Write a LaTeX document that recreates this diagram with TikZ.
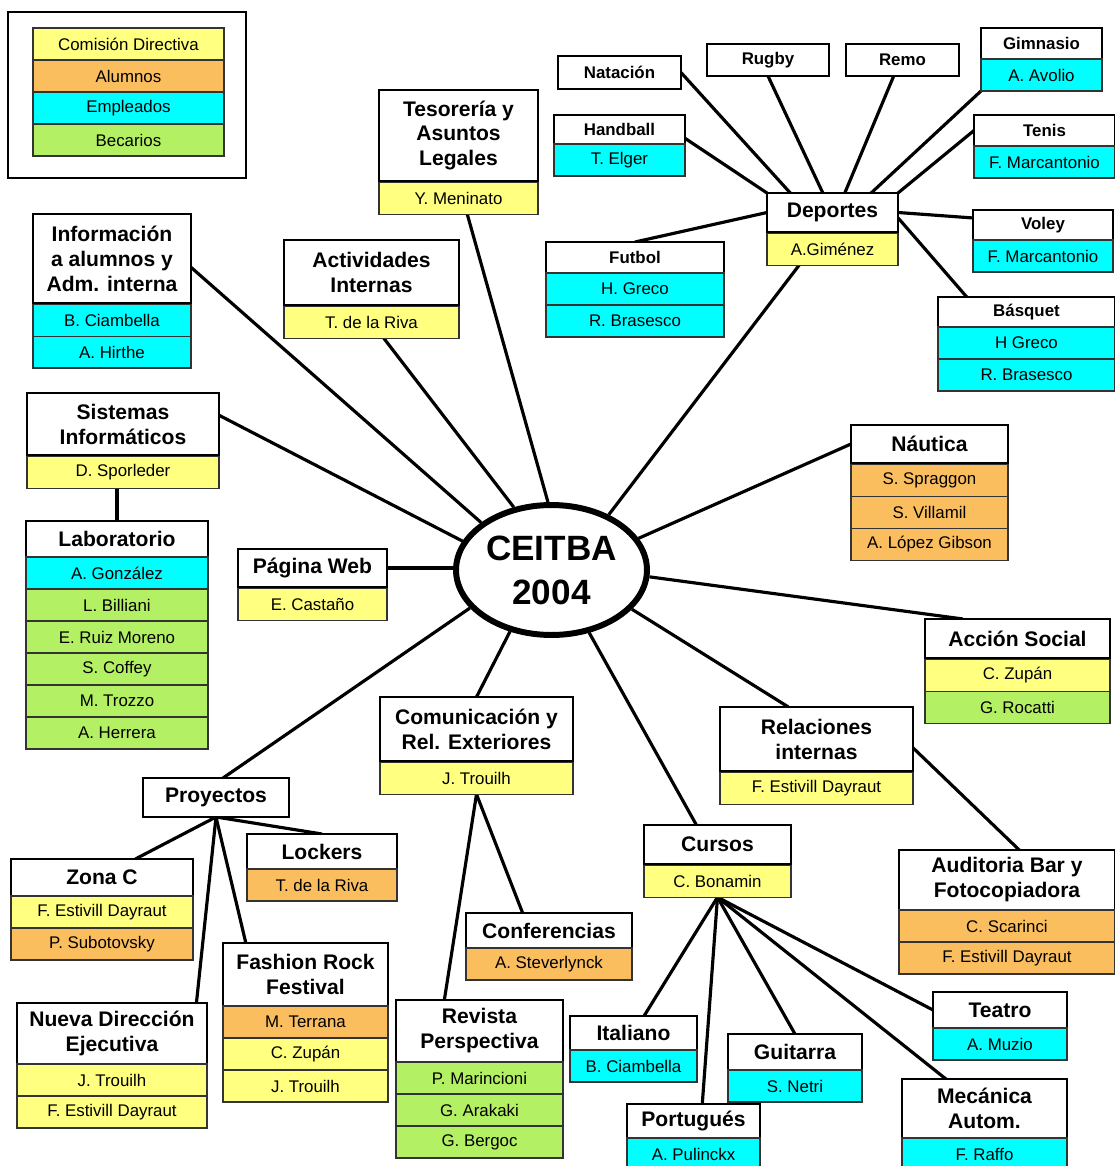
\documentclass[tikz,border=0pt]{standalone}
\usepackage{fontspec}
\setmainfont{Liberation Sans}
\usetikzlibrary{shapes.geometric, positioning, backgrounds}

\definecolor{cdircol}{RGB}{255,255,128}
\definecolor{alumcol}{RGB}{250,190,95}
\definecolor{emplcol}{RGB}{0,255,255}
\definecolor{becacol}{RGB}{180,240,100}

\begin{document}
\begin{tikzpicture}[x=0.02cm, y=-0.02cm,
    area/.style={rectangle, draw, line width=1.5pt, fill=white, anchor=north west, align=center, inner sep=0pt, outer sep=0pt, font=\bfseries\fontsize{12}{14.2}\selectfont},
    subarea/.style={area, line width=0.9pt},
    sport/.style={area, line width=0.9pt, font=\bfseries\fontsize{9.6}{11.5}\selectfont},
    member/.style={rectangle, draw=black!80, line width=0.8pt, inner sep=0pt, outer sep=0pt, minimum height=0.64cm, font=\fontsize{9.6}{11.5}\selectfont},
    cdir/.style={member, fill=cdircol},
    alum/.style={member, fill=alumcol},
    empl/.style={member, fill=emplcol},
    beca/.style={member, fill=becacol},
    link/.style={line width=1.8pt}
]
\useasboundingbox (0,0) rectangle (1115,1166);
\clip (0,0) rectangle (1115,1166);

% Legend
\node[draw, line width=1.5pt, anchor=north west, minimum width=4.76cm, minimum height=3.32cm, outer sep=0pt] (legend) at (8,12) {};
\node[cdir, anchor=north west, minimum width=3.82cm] (leg1) at (33,28) {Comisión Directiva};
\node[alum, minimum width=3.82cm, below=0pt of leg1] (leg2) {Alumnos};
\node[empl, minimum width=3.82cm, below=0pt of leg2] (leg3) {Empleados};
\node[beca, minimum width=3.82cm, below=0pt of leg3] (leg4) {Becarios};

% Center
\node[ellipse, draw, line width=3.4pt, fill=white, minimum width=3.82cm, minimum height=2.6cm, inner sep=0pt, align=center, font=\bfseries\fontsize{20}{25}\selectfont] (ceitba) at (551.5,570) {CEITBA\\2004};

% Left column
\node[area, minimum width=3.16cm, minimum height=1.78cm] (info) at (33,214) {Información\\a alumnos y\\Adm. interna};
\node[empl, minimum width=3.16cm, below=0.7pt of info] (info1) {B. Ciambella};
\node[empl, minimum width=3.16cm, below=0pt of info1] (info2) {A. Hirthe};

\node[area, minimum width=3.84cm, minimum height=1.24cm] (sis) at (27,393) {Sistemas\\Informáticos};
\node[cdir, minimum width=3.84cm, below=0.7pt of sis] (sis1) {D. Sporleder};

\node[subarea, minimum width=3.64cm, minimum height=0.72cm] (lab) at (26,521) {Laboratorio};
\node[empl, minimum width=3.64cm, below=0pt of lab] (lab1) {A. González};
\node[beca, minimum width=3.64cm, below=0pt of lab1] (lab2) {L. Billiani};
\node[beca, minimum width=3.64cm, below=0pt of lab2] (lab3) {E. Ruiz Moreno};
\node[beca, minimum width=3.64cm, below=0pt of lab3] (lab4) {S. Coffey};
\node[beca, minimum width=3.64cm, below=0pt of lab4] (lab5) {M. Trozzo};
\node[beca, minimum width=3.64cm, below=0pt of lab5] (lab6) {A. Herrera};

\node[area, minimum width=2.98cm, minimum height=0.76cm] (web) at (238,549) {Página Web};
\node[cdir, minimum width=2.98cm, below=0.7pt of web] (web1) {E. Castaño};

% Top
\node[area, minimum width=3.5cm, minimum height=1.3cm] (act) at (284,240) {Actividades\\Internas};
\node[cdir, minimum width=3.5cm, below=0.7pt of act] (act1) {T. de la Riva};

\node[area, minimum width=3.18cm, minimum height=1.82cm] (tes) at (379,90) {Tesorería y\\Asuntos\\Legales};
\node[cdir, minimum width=3.18cm, below=0.7pt of tes] (tes1) {Y. Meninato};

% Deportes
\node[area, minimum width=2.62cm, minimum height=0.78cm] (dep) at (767,193) {Deportes};
\node[cdir, minimum width=2.62cm, below=0.7pt of dep] (dep1) {A.Giménez};

\node[sport, minimum width=2.46cm, minimum height=0.66cm] (nat) at (558,56) {Natación};
\node[sport, minimum width=2.44cm, minimum height=0.64cm] (rug) at (707,44) {Rugby};
\node[sport, minimum width=2.26cm, minimum height=0.64cm] (remo) at (846,44) {Remo};

\node[sport, minimum width=2.42cm, minimum height=0.62cm] (gim) at (981,28) {Gimnasio};
\node[empl, minimum width=2.42cm, below=0pt of gim] (gim1) {A. Avolio};

\node[sport, minimum width=2.62cm, minimum height=0.58cm] (hand) at (554,115) {Handball};
\node[empl, minimum width=2.62cm, below=0pt of hand] (hand1) {T. Elger};

\node[sport, minimum width=2.82cm, minimum height=0.62cm] (ten) at (974,115) {Tenis};
\node[empl, minimum width=2.82cm, below=0pt of ten] (ten1) {F. Marcantonio};

\node[sport, minimum width=2.8cm, minimum height=0.6cm] (vol) at (973,210) {Voley};
\node[empl, minimum width=2.8cm, below=0pt of vol] (vol1) {F. Marcantonio};

\node[sport, minimum width=3.54cm, minimum height=0.6cm] (bas) at (938,297) {Básquet};
\node[empl, minimum width=3.54cm, below=0pt of bas] (bas1) {H Greco};
\node[empl, minimum width=3.54cm, below=0pt of bas1] (bas2) {R. Brasesco};

\node[sport, minimum width=3.56cm, minimum height=0.62cm] (fut) at (546,242) {Futbol};
\node[empl, minimum width=3.56cm, below=0pt of fut] (fut1) {H. Greco};
\node[empl, minimum width=3.56cm, below=0pt of fut1] (fut2) {R. Brasesco};

% Right side
\node[area, minimum width=3.14cm, minimum height=0.76cm] (nau) at (851,425) {Náutica};
\node[alum, minimum width=3.14cm, below=0.7pt of nau] (nau1) {S. Spraggon};
\node[alum, minimum width=3.14cm, below=0pt of nau1] (nau2) {S. Villamil};
\node[alum, minimum width=3.14cm, below=0pt of nau2] (nau3) {A. López Gibson};

\node[area, minimum width=3.7cm, minimum height=0.78cm] (acc) at (925,619) {Acción Social};
\node[cdir, minimum width=3.7cm, below=0.7pt of acc] (acc1) {C. Zupán};
\node[beca, minimum width=3.7cm, below=0pt of acc1] (acc2) {G. Rocatti};

\node[area, minimum width=3.86cm, minimum height=1.28cm] (rel) at (720,707) {Relaciones\\internas};
\node[cdir, minimum width=3.86cm, below=0.7pt of rel] (rel1) {F. Estivill Dayraut};

\node[subarea, minimum width=4.32cm, minimum height=1.2cm] (aud) at (899,850) {Auditoria Bar y\\Fotocopiadora};
\node[alum, minimum width=4.32cm, below=0pt of aud] (aud1) {C. Scarinci};
\node[alum, minimum width=4.32cm, below=0pt of aud1] (aud2) {F. Estivill Dayraut};

% Comunicacion
\node[area, minimum width=3.86cm, minimum height=1.28cm] (com) at (380,697) {Comunicación y\\Rel. Exteriores};
\node[cdir, minimum width=3.86cm, below=0.7pt of com] (com1) {J. Trouilh};

\node[subarea, minimum width=3.32cm, minimum height=0.7cm] (conf) at (466,913) {Conferencias};
\node[alum, minimum width=3.32cm, below=0pt of conf] (conf1) {A. Steverlynck};

\node[subarea, minimum width=3.34cm, minimum height=1.24cm] (rev) at (396,1000) {Revista\\Perspectiva};
\node[beca, minimum width=3.34cm, below=0pt of rev] (rev1) {P. Marincioni};
\node[beca, minimum width=3.34cm, below=0pt of rev1] (rev2) {G. Arakaki};
\node[beca, minimum width=3.34cm, below=0pt of rev2] (rev3) {G. Bergoc};

% Cursos
\node[area, minimum width=2.94cm, minimum height=0.78cm] (cur) at (644,825) {Cursos};
\node[cdir, minimum width=2.94cm, below=0.7pt of cur] (cur1) {C. Bonamin};

\node[subarea, minimum width=2.54cm, minimum height=0.68cm] (ita) at (570,1016) {Italiano};
\node[empl, minimum width=2.54cm, below=0pt of ita] (ita1) {B. Ciambella};

\node[subarea, minimum width=2.66cm, minimum height=0.68cm] (por) at (627,1104) {Portugués};
\node[empl, minimum width=2.66cm, below=0pt of por] (por1) {A. Pulinckx};

\node[subarea, minimum width=2.68cm, minimum height=0.72cm] (gui) at (728,1034) {Guitarra};
\node[empl, minimum width=2.68cm, below=0pt of gui] (gui1) {S. Netri};

\node[subarea, minimum width=2.68cm, minimum height=0.72cm] (tea) at (933,992) {Teatro};
\node[empl, minimum width=2.68cm, below=0pt of tea] (tea1) {A. Muzio};

\node[subarea, minimum width=3.3cm, minimum height=1.18cm] (mec) at (902,1079) {Mecánica\\Autom.};
\node[empl, minimum width=3.3cm, below=0pt of mec] (mec1) {F. Raffo};

% Proyectos
\node[area, minimum width=2.92cm, minimum height=0.78cm] (proy) at (143,778) {Proyectos};

\node[subarea, minimum width=3cm, minimum height=0.7cm] (lock) at (247,834) {Lockers};
\node[alum, minimum width=3cm, below=0pt of lock] (lock1) {T. de la Riva};

\node[subarea, minimum width=3.64cm, minimum height=0.74cm] (zona) at (11,859) {Zona C};
\node[cdir, minimum width=3.64cm, below=0pt of zona] (zona1) {F. Estivill Dayraut};
\node[alum, minimum width=3.64cm, below=0pt of zona1] (zona2) {P. Subotovsky};

\node[subarea, minimum width=3.3cm, minimum height=1.26cm] (fash) at (223,943) {Fashion Rock\\Festival};
\node[alum, minimum width=3.3cm, below=0pt of fash] (fash1) {M. Terrana};
\node[cdir, minimum width=3.3cm, below=0pt of fash1] (fash2) {C. Zupán};
\node[cdir, minimum width=3.3cm, below=0pt of fash2] (fash3) {J. Trouilh};

\node[subarea, minimum width=3.8cm, minimum height=1.22cm] (nue) at (17,1003) {Nueva Dirección\\Ejecutiva};
\node[cdir, minimum width=3.8cm, below=0pt of nue] (nue1) {J. Trouilh};
\node[cdir, minimum width=3.8cm, below=0pt of nue1] (nue2) {F. Estivill Dayraut};

% Connectors
\begin{pgfonlayer}{background}
    \fill[white] (0,0) rectangle (1115,1166);

    % to the center
    \draw[link] ([yshift=-5pt]info.east) -- (ceitba.146);
    \draw[link] ([xshift=7pt]act1.south) -- (ceitba.121);
    \draw[link] ([xshift=5pt]tes1.south) -- (ceitba.93);
    \draw[link] ([xshift=-19pt]dep1.south) -- (ceitba.44);
    \draw[link] ([yshift=5pt]sis.east) -- (ceitba.162);
    \draw[link] (web.east) -- (web.east -| ceitba.center);
    \draw[link] ([xshift=4pt]proy.north) -- (ceitba.205);
    \draw[link] (com.north) -- (ceitba.236);
    \draw[link] ([xshift=-12pt]cur.north) -- (ceitba.301);
    \draw[link] ([xshift=-16pt]rel.north) -- (ceitba.334);
    \draw[link] ([xshift=-31pt]acc.north) -- (ceitba.356);
    \draw[link] (nau.west) -- (ceitba.20);

    % Deportes
    \draw[link] (nat.east) -- ([xshift=-24pt]dep.north);
    \draw[link] (rug.south) -- ([xshift=-5.5pt]dep.north);
    \draw[link] ([xshift=-5pt]remo.south) -- ([xshift=7pt]dep.north);
    \draw[link] (gim1.south west) -- ([xshift=22pt]dep.north);
    \draw[link] (ten.west) -- (dep.north east);
    \draw[link] ([yshift=4pt]vol.west) -- (dep.east);
    \draw[link] ([xshift=-34pt]bas.north) -- ([yshift=-3pt]dep.east);
    \draw[link] ([yshift=-5pt]hand.east) -- (dep.north west);
    \draw[link] (fut.north) -- (dep.west);

    % Sistemas
    \draw[link] (lab.north) -- (lab.north |- sis1.south);

    % Proyectos
    \draw[link] ([xshift=19pt]zona.north) -- (proy.south);
    \draw[link] (lock.north) -- (proy.south);
    \draw[link] ([xshift=-6pt]nue.north east) -- (proy.south);
    \draw[link] ([xshift=13pt]fash.north west) -- (proy.south);

    % Comunicacion
    \draw[link] (com1.south) -- ([xshift=-20pt]rev.north);
    \draw[link] (com1.south) -- ([xshift=-15pt]conf.north);

    % Cursos
    \draw[link] (cur1.south) -- ([xshift=6pt]ita.north);
    \draw[link] (cur1.south) -- ([xshift=5pt]por.north);
    \draw[link] (cur1.south) -- (gui.north);
    \draw[link] (cur1.south) -- (tea.west);
    \draw[link] (cur1.south) -- ([xshift=25pt]mec.north west);

    % Relaciones
    \draw[link] ([yshift=-5pt]rel.east) -- ([xshift=7pt]aud.north);
\end{pgfonlayer}
\end{tikzpicture}
\end{document}
